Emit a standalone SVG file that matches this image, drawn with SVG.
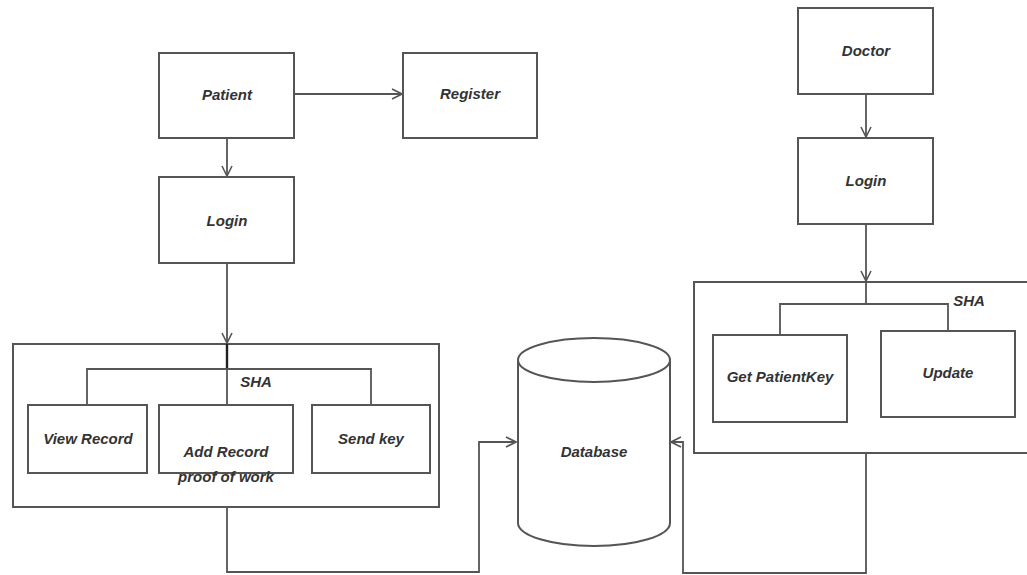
<svg xmlns="http://www.w3.org/2000/svg" width="1027" height="575" viewBox="0 0 1027 575">
<defs>
<style>
.box{fill:#fff;stroke:#555;stroke-width:2}
.ln{fill:none;stroke:#555;stroke-width:1.8}
.t{font-family:"Liberation Sans",Arial,sans-serif;font-style:italic;font-weight:bold;font-size:15px;fill:#333;text-anchor:middle}
</style>
<marker id="ar" viewBox="0 0 12 12" refX="11" refY="6" markerWidth="12" markerHeight="12" markerUnits="userSpaceOnUse" orient="auto">
<path d="M1,1 L11,6 L1,11" fill="none" stroke="#555" stroke-width="1.6"/>
</marker>
</defs>
<rect width="1027" height="575" fill="#fff"/>

<g id="sha-left">
<rect class="box" x="13" y="344" width="426" height="163"/>
<text class="t" x="256" y="387">SHA</text>
</g>
<g id="sha-right">
<rect class="box" x="694" y="282" width="340" height="171"/>
<text class="t" x="969" y="306">SHA</text>
</g>

<g id="connectors">
<line class="ln" x1="294" y1="94" x2="402" y2="94" marker-end="url(#ar)"/>
<line class="ln" x1="227" y1="138" x2="227" y2="176" marker-end="url(#ar)"/>
<line class="ln" x1="227" y1="263" x2="227" y2="343" marker-end="url(#ar)"/>
<line x1="227" y1="344" x2="227" y2="369" stroke="#222" stroke-width="2.4"/>
<line class="ln" x1="227" y1="369" x2="227" y2="405"/>
<polyline class="ln" points="87,405 87,369 371,369 371,405"/>
<polyline class="ln" points="227,507 227,572 479,572 479,442 516,442" marker-end="url(#ar)"/>
<line class="ln" x1="866" y1="94" x2="866" y2="137" marker-end="url(#ar)"/>
<line class="ln" x1="866" y1="224" x2="866" y2="281" marker-end="url(#ar)"/>
<line class="ln" x1="866" y1="282" x2="866" y2="304"/>
<polyline class="ln" points="780,335 780,304 948,304 948,331"/>
<polyline class="ln" points="866,453 866,573 683,573 683,442 671,442" marker-end="url(#ar)"/>
</g>

<g id="patient">
<rect class="box" x="159" y="53" width="135" height="85"/>
<text class="t" x="227" y="100">Patient</text>
</g>
<g id="register">
<rect class="box" x="403" y="53" width="134" height="85"/>
<text class="t" x="470" y="99">Register</text>
</g>
<g id="login-patient">
<rect class="box" x="159" y="177" width="135" height="86"/>
<text class="t" x="227" y="226">Login</text>
</g>
<g id="view-record">
<rect class="box" x="28" y="405" width="119" height="68"/>
<text class="t" x="88" y="444">View Record</text>
</g>
<g id="add-record">
<rect class="box" x="159" y="405" width="134" height="68"/>
<text class="t" x="226" y="457">Add Record</text>
<text class="t" x="226" y="482">proof of work</text>
</g>
<g id="send-key">
<rect class="box" x="312" y="405" width="118" height="68"/>
<text class="t" x="371" y="444">Send key</text>
</g>
<g id="database">
<path class="box" d="M518,360 L518,523 A76,23 0 0 0 670,523 L670,360"/>
<ellipse class="box" cx="594" cy="360" rx="76" ry="22"/>
<text class="t" x="594" y="457">Database</text>
</g>
<g id="doctor">
<rect class="box" x="798" y="8" width="135" height="86"/>
<text class="t" x="866" y="56">Doctor</text>
</g>
<g id="login-doctor">
<rect class="box" x="798" y="138" width="135" height="86"/>
<text class="t" x="866" y="186">Login</text>
</g>
<g id="get-patientkey">
<rect class="box" x="713" y="335" width="134" height="87"/>
<text class="t" x="780" y="382">Get PatientKey</text>
</g>
<g id="update">
<rect class="box" x="881" y="331" width="134" height="86"/>
<text class="t" x="948" y="378">Update</text>
</g>
</svg>
